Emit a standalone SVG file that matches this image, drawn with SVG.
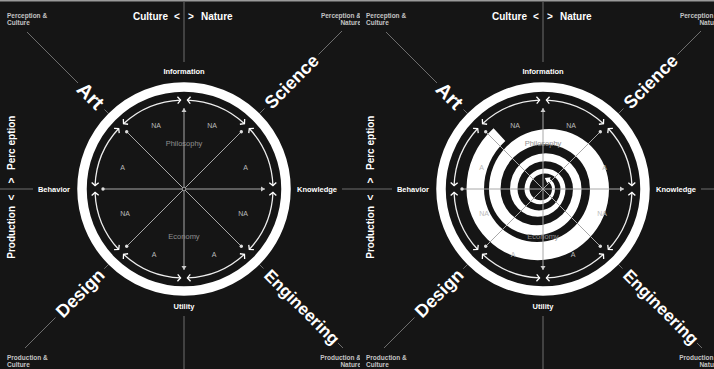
<svg xmlns="http://www.w3.org/2000/svg" width="714" height="369" viewBox="0 0 714 369">
<style>
.t{font-family:"Liberation Sans",Arial,sans-serif}
.big{font-size:18px;font-weight:700;fill:#fff}
.axis{font-size:10px;font-weight:700;fill:#fff}
.pole{font-size:7.5px;font-weight:700;fill:#fff}
.corner{font-size:6.5px;font-weight:700;fill:#c4c4c4}
.q{font-size:7px;fill:#bbb}
.dom{font-size:7.5px;fill:#8f8f8f}
.ring{fill:none;stroke:#fff;stroke-width:9.5}
.arc{fill:none;stroke:#eee;stroke-width:1.3}
.ray{stroke:#a8a8a8;stroke-width:1;fill:none}
.guide{stroke:#6e6e6e;stroke-width:1}
.dot{fill:#ddd}
</style>
<defs>
<marker id="ch" viewBox="-5 -5 10 10" refX="0" refY="0" markerWidth="10" markerHeight="10" markerUnits="userSpaceOnUse" orient="auto-start-reverse"><path d="M-3,-3.5 L0,0 L-3,3.5" fill="none" stroke="#fff" stroke-width="1.3"/></marker>
<marker id="ra" viewBox="-5 -5 10 10" refX="0" refY="0" markerWidth="10" markerHeight="10" markerUnits="userSpaceOnUse" orient="auto-start-reverse"><path d="M-4,-2.5 L0,0 L-4,2.5 Z" fill="#ccc"/></marker>
<marker id="sp" viewBox="-6 -6 12 12" refX="0" refY="0" markerWidth="12" markerHeight="12" markerUnits="userSpaceOnUse" orient="auto"><path d="M-1,-3.5 L4,0 L-1,3.5 Z" fill="#fff"/></marker>
<clipPath id="clipL"><rect x="0" y="0" width="360" height="369"/></clipPath>
<clipPath id="clipR"><rect x="360" y="0" width="354" height="369"/></clipPath>
</defs>
<rect x="0" y="0" width="714" height="369" fill="#151515"/>
<rect x="0" y="0" width="714" height="1.5" fill="#9a9a9a"/>

<g id="left-panel" clip-path="url(#clipL)" class="t">
  <g id="L-guides">
    <line class="guide" x1="184" y1="2" x2="184" y2="62"/>
    <line class="guide" x1="184" y1="316" x2="184" y2="369"/>
    <line class="guide" x1="0" y1="189" x2="33" y2="189"/>
    <line class="guide" x1="342" y1="189" x2="362" y2="189"/>
    <line class="guide" x1="108.3" y1="113.3" x2="104.5" y2="109.5"/>
    <line class="guide" x1="78" y1="83" x2="27" y2="32"/>
    <line class="guide" x1="259.7" y1="113.3" x2="264.5" y2="108.5"/>
    <line class="guide" x1="318.5" y1="54.5" x2="342" y2="31"/>
    <line class="guide" x1="108.3" y1="264.7" x2="104.2" y2="268.8"/>
    <line class="guide" x1="55.5" y1="317.5" x2="25" y2="348"/>
    <line class="guide" x1="259.7" y1="264.7" x2="263.5" y2="268.5"/>
    <line class="guide" x1="338" y1="343" x2="343" y2="348"/>
  </g>
  <g id="L-ring"><circle class="ring" cx="184" cy="189" r="102"/></g>
  <g id="L-cycle">
    <path class="arc" marker-start="url(#ch)" marker-end="url(#ch)" d="M272.93,192.42 A89,89 0 0 1 249.30,249.47"/>
    <path class="arc" marker-start="url(#ch)" marker-end="url(#ch)" d="M244.47,254.30 A89,89 0 0 1 187.42,277.93"/>
    <path class="arc" marker-start="url(#ch)" marker-end="url(#ch)" d="M180.58,277.93 A89,89 0 0 1 123.53,254.30"/>
    <path class="arc" marker-start="url(#ch)" marker-end="url(#ch)" d="M118.70,249.47 A89,89 0 0 1 95.07,192.42"/>
    <path class="arc" marker-start="url(#ch)" marker-end="url(#ch)" d="M95.07,185.58 A89,89 0 0 1 118.70,128.53"/>
    <path class="arc" marker-start="url(#ch)" marker-end="url(#ch)" d="M123.53,123.70 A89,89 0 0 1 180.58,100.07"/>
    <path class="arc" marker-start="url(#ch)" marker-end="url(#ch)" d="M187.42,100.07 A89,89 0 0 1 244.47,123.70"/>
    <path class="arc" marker-start="url(#ch)" marker-end="url(#ch)" d="M249.30,128.53 A89,89 0 0 1 272.93,185.58"/>
  </g>
  <g id="L-rays">
    <line class="ray" x1="103" y1="189" x2="265" y2="189" marker-end="url(#ra)"/>
    <line class="ray" x1="184" y1="108" x2="184" y2="270" marker-start="url(#ra)" marker-end="url(#ra)"/>
    <line class="ray" x1="126.7" y1="131.7" x2="241.3" y2="246.3"/>
    <line class="ray" x1="241.3" y1="131.7" x2="126.7" y2="246.3"/>
    <circle class="dot" cx="103" cy="189" r="1.7"/>
    <circle class="dot" cx="126.7" cy="131.7" r="1.7"/>
    <circle class="dot" cx="241.3" cy="131.7" r="1.7"/>
    <circle class="dot" cx="241.3" cy="246.3" r="1.7"/>
    <circle class="dot" cx="126.7" cy="246.3" r="1.7"/>
    <circle cx="184" cy="189" r="1.8" fill="#151515" stroke="#aaa" stroke-width="0.8"/>
  </g>
  <g id="L-sectors">
    <text class="q" x="156" y="127.5" text-anchor="middle">NA</text>
    <text class="q" x="212" y="127.5" text-anchor="middle">NA</text>
    <text class="q" x="122.5" y="169.5" text-anchor="middle">A</text>
    <text class="q" x="245.5" y="169.5" text-anchor="middle">A</text>
    <text class="q" x="125" y="215.5" text-anchor="middle">NA</text>
    <text class="q" x="243" y="215.5" text-anchor="middle">NA</text>
    <text class="q" x="154" y="256.5" text-anchor="middle">A</text>
    <text class="q" x="214" y="256.5" text-anchor="middle">A</text>
    <text class="dom" x="184" y="145.5" text-anchor="middle">Philosophy</text>
    <text class="dom" x="184" y="238.5" text-anchor="middle">Economy</text>
  </g>
  <g id="L-poles">
    <text class="pole" x="184" y="73.5" text-anchor="middle">Information</text>
    <text class="pole" x="184" y="309" text-anchor="middle">Utility</text>
    <text class="pole" x="54" y="191.7" text-anchor="middle">Behavior</text>
    <text class="pole" x="317" y="191.7" text-anchor="middle">Knowledge</text>
  </g>
  <g id="L-axes">
    <text class="axis" x="168" y="19.5" text-anchor="end">Culture</text>
    <text class="axis" x="177" y="19.5" text-anchor="middle">&lt;</text>
    <text class="axis" x="191" y="19.5" text-anchor="middle">&gt;</text>
    <text class="axis" x="201" y="19.5">Nature</text>
    <g transform="translate(15,189) rotate(-90)">
      <text class="axis" x="-17" y="0" text-anchor="end">Production</text>
      <text class="axis" x="-8.5" y="0" text-anchor="middle">&lt;</text>
      <text class="axis" x="8.5" y="0" text-anchor="middle">&gt;</text>
      <text class="axis" x="19" y="0">Perc eption</text>
    </g>
  </g>
  <g id="L-fields">
    <text class="big" style="font-size:20px" transform="translate(90.7,95.7) rotate(45)" text-anchor="middle" dy="0.35em">Art</text>
    <text class="big" transform="translate(291.5,81.5) rotate(-45)" text-anchor="middle" dy="0.35em">Science</text>
    <text class="big" transform="translate(80,293) rotate(-45)" text-anchor="middle" dy="0.35em">Design</text>
    <text class="big" style="font-size:17px" transform="translate(302,307) rotate(45)" text-anchor="middle" dy="0.35em">Engineering</text>
  </g>
  <g id="L-corners">
    <text class="corner" x="7" y="17.5">Perception &amp;</text>
    <text class="corner" x="7" y="25">Culture</text>
    <text class="corner" x="361" y="17.5" text-anchor="end">Perception &amp;</text>
    <text class="corner" x="361" y="25" text-anchor="end">Nature</text>
    <text class="corner" x="7" y="359.5">Production &amp;</text>
    <text class="corner" x="7" y="366.5">Culture</text>
    <text class="corner" x="361" y="359.5" text-anchor="end">Production &amp;</text>
    <text class="corner" x="361" y="366.5" text-anchor="end">Nature</text>
  </g>
</g>

<g id="right-panel" clip-path="url(#clipR)" class="t">
 <g transform="translate(359,0)">
  <g id="R-guides">
    <line class="guide" x1="184" y1="2" x2="184" y2="62"/>
    <line class="guide" x1="184" y1="316" x2="184" y2="369"/>
    <line class="guide" x1="0" y1="189" x2="33" y2="189"/>
    <line class="guide" x1="342" y1="189" x2="362" y2="189"/>
    <line class="guide" x1="108.3" y1="113.3" x2="104.5" y2="109.5"/>
    <line class="guide" x1="78" y1="83" x2="27" y2="32"/>
    <line class="guide" x1="259.7" y1="113.3" x2="264.5" y2="108.5"/>
    <line class="guide" x1="318.5" y1="54.5" x2="342" y2="31"/>
    <line class="guide" x1="108.3" y1="264.7" x2="104.2" y2="268.8"/>
    <line class="guide" x1="55.5" y1="317.5" x2="25" y2="348"/>
    <line class="guide" x1="259.7" y1="264.7" x2="263.5" y2="268.5"/>
    <line class="guide" x1="338" y1="343" x2="343" y2="348"/>
  </g>
  <g id="R-ring"><circle class="ring" cx="184" cy="189" r="102"/></g>
  <g id="R-cycle">
    <path class="arc" marker-start="url(#ch)" marker-end="url(#ch)" d="M272.93,192.42 A89,89 0 0 1 249.30,249.47"/>
    <path class="arc" marker-start="url(#ch)" marker-end="url(#ch)" d="M244.47,254.30 A89,89 0 0 1 187.42,277.93"/>
    <path class="arc" marker-start="url(#ch)" marker-end="url(#ch)" d="M180.58,277.93 A89,89 0 0 1 123.53,254.30"/>
    <path class="arc" marker-start="url(#ch)" marker-end="url(#ch)" d="M118.70,249.47 A89,89 0 0 1 95.07,192.42"/>
    <path class="arc" marker-start="url(#ch)" marker-end="url(#ch)" d="M95.07,185.58 A89,89 0 0 1 118.70,128.53"/>
    <path class="arc" marker-start="url(#ch)" marker-end="url(#ch)" d="M123.53,123.70 A89,89 0 0 1 180.58,100.07"/>
    <path class="arc" marker-start="url(#ch)" marker-end="url(#ch)" d="M187.42,100.07 A89,89 0 0 1 244.47,123.70"/>
    <path class="arc" marker-start="url(#ch)" marker-end="url(#ch)" d="M249.30,128.53 A89,89 0 0 1 272.93,185.58"/>
  </g>
  <g id="spiral">
    <path fill="#fff" d="M134.55,128.25 A81.75,81.75 0 0 0 107.5,189 A71.25,71.25 0 0 0 250,189 A60,60 0 0 0 130,189 A46.25,46.25 0 0 0 222.5,189 A35.75,35.75 0 0 0 151,189 A27.75,27.75 0 0 0 206.5,189 A20.5,20.5 0 0 0 165.5,189 A15.25,15.25 0 0 0 196,189 L193,189 A11.25,11.25 0 0 1 170.5,189 A15.5,15.5 0 0 1 201.5,189 A21.5,21.5 0 0 1 158.5,189 A27.75,27.75 0 0 1 214,189 A36.25,36.25 0 0 1 141.5,189 A44.75,44.75 0 0 1 231,189 A53,53 0 0 1 125,189 A64.5,64.5 0 0 1 146.34,141.07 Z"/>
    <path d="M194.5,189 A10.5,10.5 0 0 0 189.25,179.9" fill="none" stroke="#fff" stroke-width="3" marker-end="url(#sp)"/>
  </g>
  <g id="R-rays">
    <line class="ray" x1="103" y1="189" x2="265" y2="189" marker-end="url(#ra)"/>
    <line class="ray" x1="184" y1="108" x2="184" y2="270" marker-start="url(#ra)" marker-end="url(#ra)"/>
    <line class="ray" x1="126.7" y1="131.7" x2="241.3" y2="246.3"/>
    <line class="ray" x1="241.3" y1="131.7" x2="126.7" y2="246.3"/>
    <circle class="dot" cx="103" cy="189" r="1.7"/>
    <circle class="dot" cx="126.7" cy="131.7" r="1.7"/>
    <circle class="dot" cx="241.3" cy="131.7" r="1.7"/>
    <circle class="dot" cx="241.3" cy="246.3" r="1.7"/>
    <circle class="dot" cx="126.7" cy="246.3" r="1.7"/>
  </g>
  <g id="R-sectors">
    <text class="q" x="156" y="127.5" text-anchor="middle">NA</text>
    <text class="q" x="212" y="127.5" text-anchor="middle">NA</text>
    <text class="q" x="122.5" y="169.5" text-anchor="middle">A</text>
    <text class="q" x="245.5" y="169.5" text-anchor="middle">A</text>
    <text class="q" x="125" y="215.5" text-anchor="middle">NA</text>
    <text class="q" x="243" y="215.5" text-anchor="middle">NA</text>
    <text class="q" x="154" y="256.5" text-anchor="middle">A</text>
    <text class="q" x="214" y="256.5" text-anchor="middle">A</text>
    <text class="dom" x="184" y="145.5" text-anchor="middle">Philosophy</text>
    <text class="dom" x="184" y="238.5" text-anchor="middle">Economy</text>
  </g>
  <g id="R-poles">
    <text class="pole" x="184" y="73.5" text-anchor="middle">Information</text>
    <text class="pole" x="184" y="309" text-anchor="middle">Utility</text>
    <text class="pole" x="54" y="191.7" text-anchor="middle">Behavior</text>
    <text class="pole" x="317" y="191.7" text-anchor="middle">Knowledge</text>
  </g>
  <g id="R-axes">
    <text class="axis" x="168" y="19.5" text-anchor="end">Culture</text>
    <text class="axis" x="177" y="19.5" text-anchor="middle">&lt;</text>
    <text class="axis" x="191" y="19.5" text-anchor="middle">&gt;</text>
    <text class="axis" x="201" y="19.5">Nature</text>
    <g transform="translate(15,189) rotate(-90)">
      <text class="axis" x="-17" y="0" text-anchor="end">Production</text>
      <text class="axis" x="-8.5" y="0" text-anchor="middle">&lt;</text>
      <text class="axis" x="8.5" y="0" text-anchor="middle">&gt;</text>
      <text class="axis" x="19" y="0">Perc eption</text>
    </g>
  </g>
  <g id="R-fields">
    <text class="big" style="font-size:20px" transform="translate(90.7,95.7) rotate(45)" text-anchor="middle" dy="0.35em">Art</text>
    <text class="big" transform="translate(291.5,81.5) rotate(-45)" text-anchor="middle" dy="0.35em">Science</text>
    <text class="big" transform="translate(80,293) rotate(-45)" text-anchor="middle" dy="0.35em">Design</text>
    <text class="big" style="font-size:17px" transform="translate(302,307) rotate(45)" text-anchor="middle" dy="0.35em">Engineering</text>
  </g>
  <g id="R-corners">
    <text class="corner" x="7" y="17.5">Perception &amp;</text>
    <text class="corner" x="7" y="25">Culture</text>
    <text class="corner" x="361" y="17.5" text-anchor="end">Perception &amp;</text>
    <text class="corner" x="361" y="25" text-anchor="end">Nature</text>
    <text class="corner" x="7" y="359.5">Production &amp;</text>
    <text class="corner" x="7" y="366.5">Culture</text>
    <text class="corner" x="361" y="359.5" text-anchor="end">Production &amp;</text>
    <text class="corner" x="361" y="366.5" text-anchor="end">Nature</text>
  </g>
 </g>
</g>
</svg>
